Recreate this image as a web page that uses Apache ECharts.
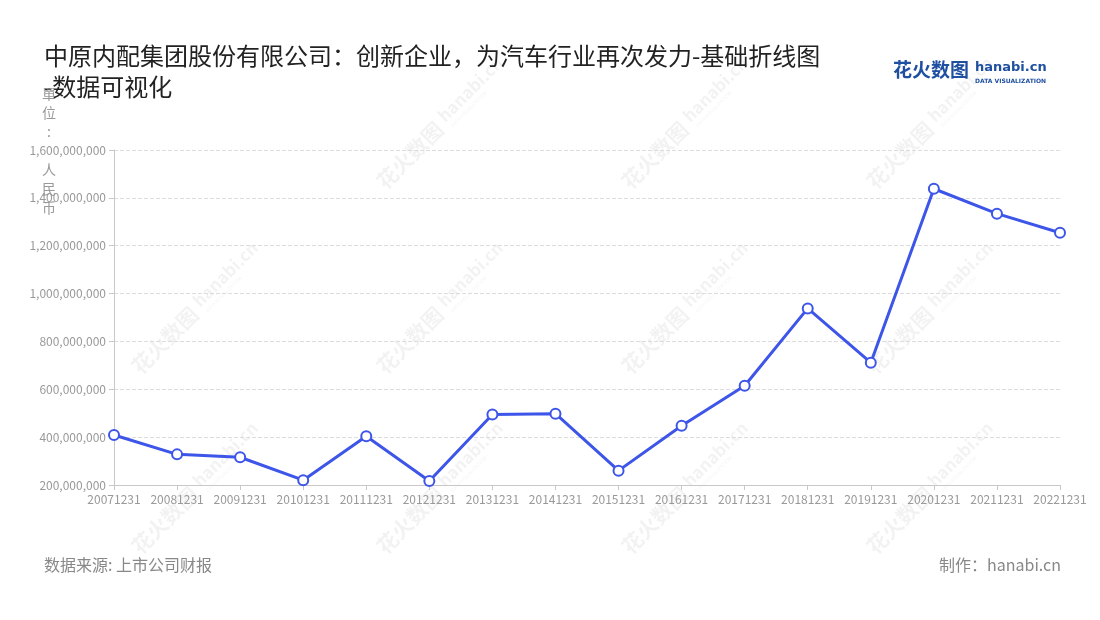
<!DOCTYPE html>
<html><head><meta charset="utf-8">
<script src="https://cdn.jsdelivr.net/npm/echarts@6/dist/echarts.min.js"></script>
<style>html,body{margin:0;padding:0;background:#fff}#c{width:1100px;height:620px}</style>
</head><body><div id="c"></div>
<script>
const categories = ['20071231','20081231','20091231','20101231','20111231','20121231','20131231','20141231','20151231','20161231','20171231','20181231','20191231','20201231','20211231','20221231'];
const values = [409000000,328000000,316000000,220000000,404000000,217000000,495000000,498000000,260000000,448000000,615000000,938000000,711000000,1438000000,1334000000,1254000000];
const titleText = '中原内配集团股份有限公司：创新企业，为汽车行业再次发力-基础折线图\n-数据可视化';
const yName = '單\n位\n:\n \n人\n民\n币';
const sourceText = '数据来源: 上市公司财报';
const makerText = '制作：hanabi.cn';

const font = '"Noto Sans CJK SC","Noto Sans",sans-serif';
const wm = [];
const wmPos = [[380,185],[625,185],[870,185],[135,370],[380,370],[625,370],[870,370],[135,550],[380,550],[625,550],[870,550]];
const wmColor = 'rgba(0,0,0,0.05)';
wmPos.forEach(p => {
  wm.push({type:'group', x:p[0], y:p[1], rotation:Math.PI/4, silent:true, z:-1, children:[
    {type:'text', style:{text:'花火数图', x:0, y:0, font:'bold 21px '+font, fill:wmColor, verticalAlign:'middle'}},
    {type:'text', style:{text:'hanabi.cn', x:90, y:-4, font:'bold 17px '+font, fill:wmColor, verticalAlign:'middle'}},
    {type:'text', style:{text:'DATA VISUALIZATION', x:92, y:9, font:'5px '+font, fill:wmColor, verticalAlign:'middle'}}
  ]});
});

const chart = echarts.init(document.getElementById('c'));
chart.setOption({
  backgroundColor:'#fff',
  title:{text:titleText, left:39, top:35, textStyle:{fontFamily:font, fontSize:24, fontWeight:'normal', color:'#222', lineHeight:31}},
  grid:{left:114, right:40, top:150, bottom:135, outerBoundsMode:'none'},
  xAxis:{type:'category', data:categories, boundaryGap:false,
    axisLine:{lineStyle:{color:'#c8c8c8'}}, axisTick:{show:true, lineStyle:{color:'#c8c8c8'}},
    axisLabel:{color:'#999', fontSize:12, fontFamily:font, margin:8, interval:0}},
  yAxis:{type:'value', min:200000000, max:1600000000, interval:200000000,
    axisLine:{show:true, lineStyle:{color:'#c8c8c8'}}, axisTick:{show:true, lineStyle:{color:'#c8c8c8'}},
    axisLabel:{color:'#999', fontSize:12, fontFamily:font, margin:8, formatter:v=>v.toLocaleString('en-US')},
    splitLine:{lineStyle:{color:'#dcdcdc', type:'dashed'}}},
  series:[{type:'line', data:values, symbol:'emptyCircle', symbolSize:10,
    lineStyle:{color:'#3d55e8', width:3}, itemStyle:{color:'#3d55e8', borderWidth:2}}],
  graphic:[
    ...wm,
    {type:'text', z:10, style:{text:yName, x:49, y:84, align:'center', verticalAlign:'top', font:'14px '+font, lineHeight:19, fill:'#999'}},
    {type:'text', left:44, top:557, style:{text:sourceText, font:'16px '+font, fill:'#888'}},
    {type:'text', right:39, top:557, style:{text:makerText, font:'16px '+font, fill:'#888'}},
    {type:'text', left:893, top:60, style:{text:'花火数图', font:'bold 19px '+font, fill:'#1f4fa0'}},
    {type:'text', left:975, top:61, style:{text:'hanabi.cn', font:'bold 13px "DejaVu Sans",sans-serif', fill:'#1f4fa0'}},
    {type:'text', left:975, top:78, style:{text:'DATA VISUALIZATION', font:'bold 6px "DejaVu Sans",sans-serif', fill:'#1f4fa0'}}
  ]
});
</script></body></html>
